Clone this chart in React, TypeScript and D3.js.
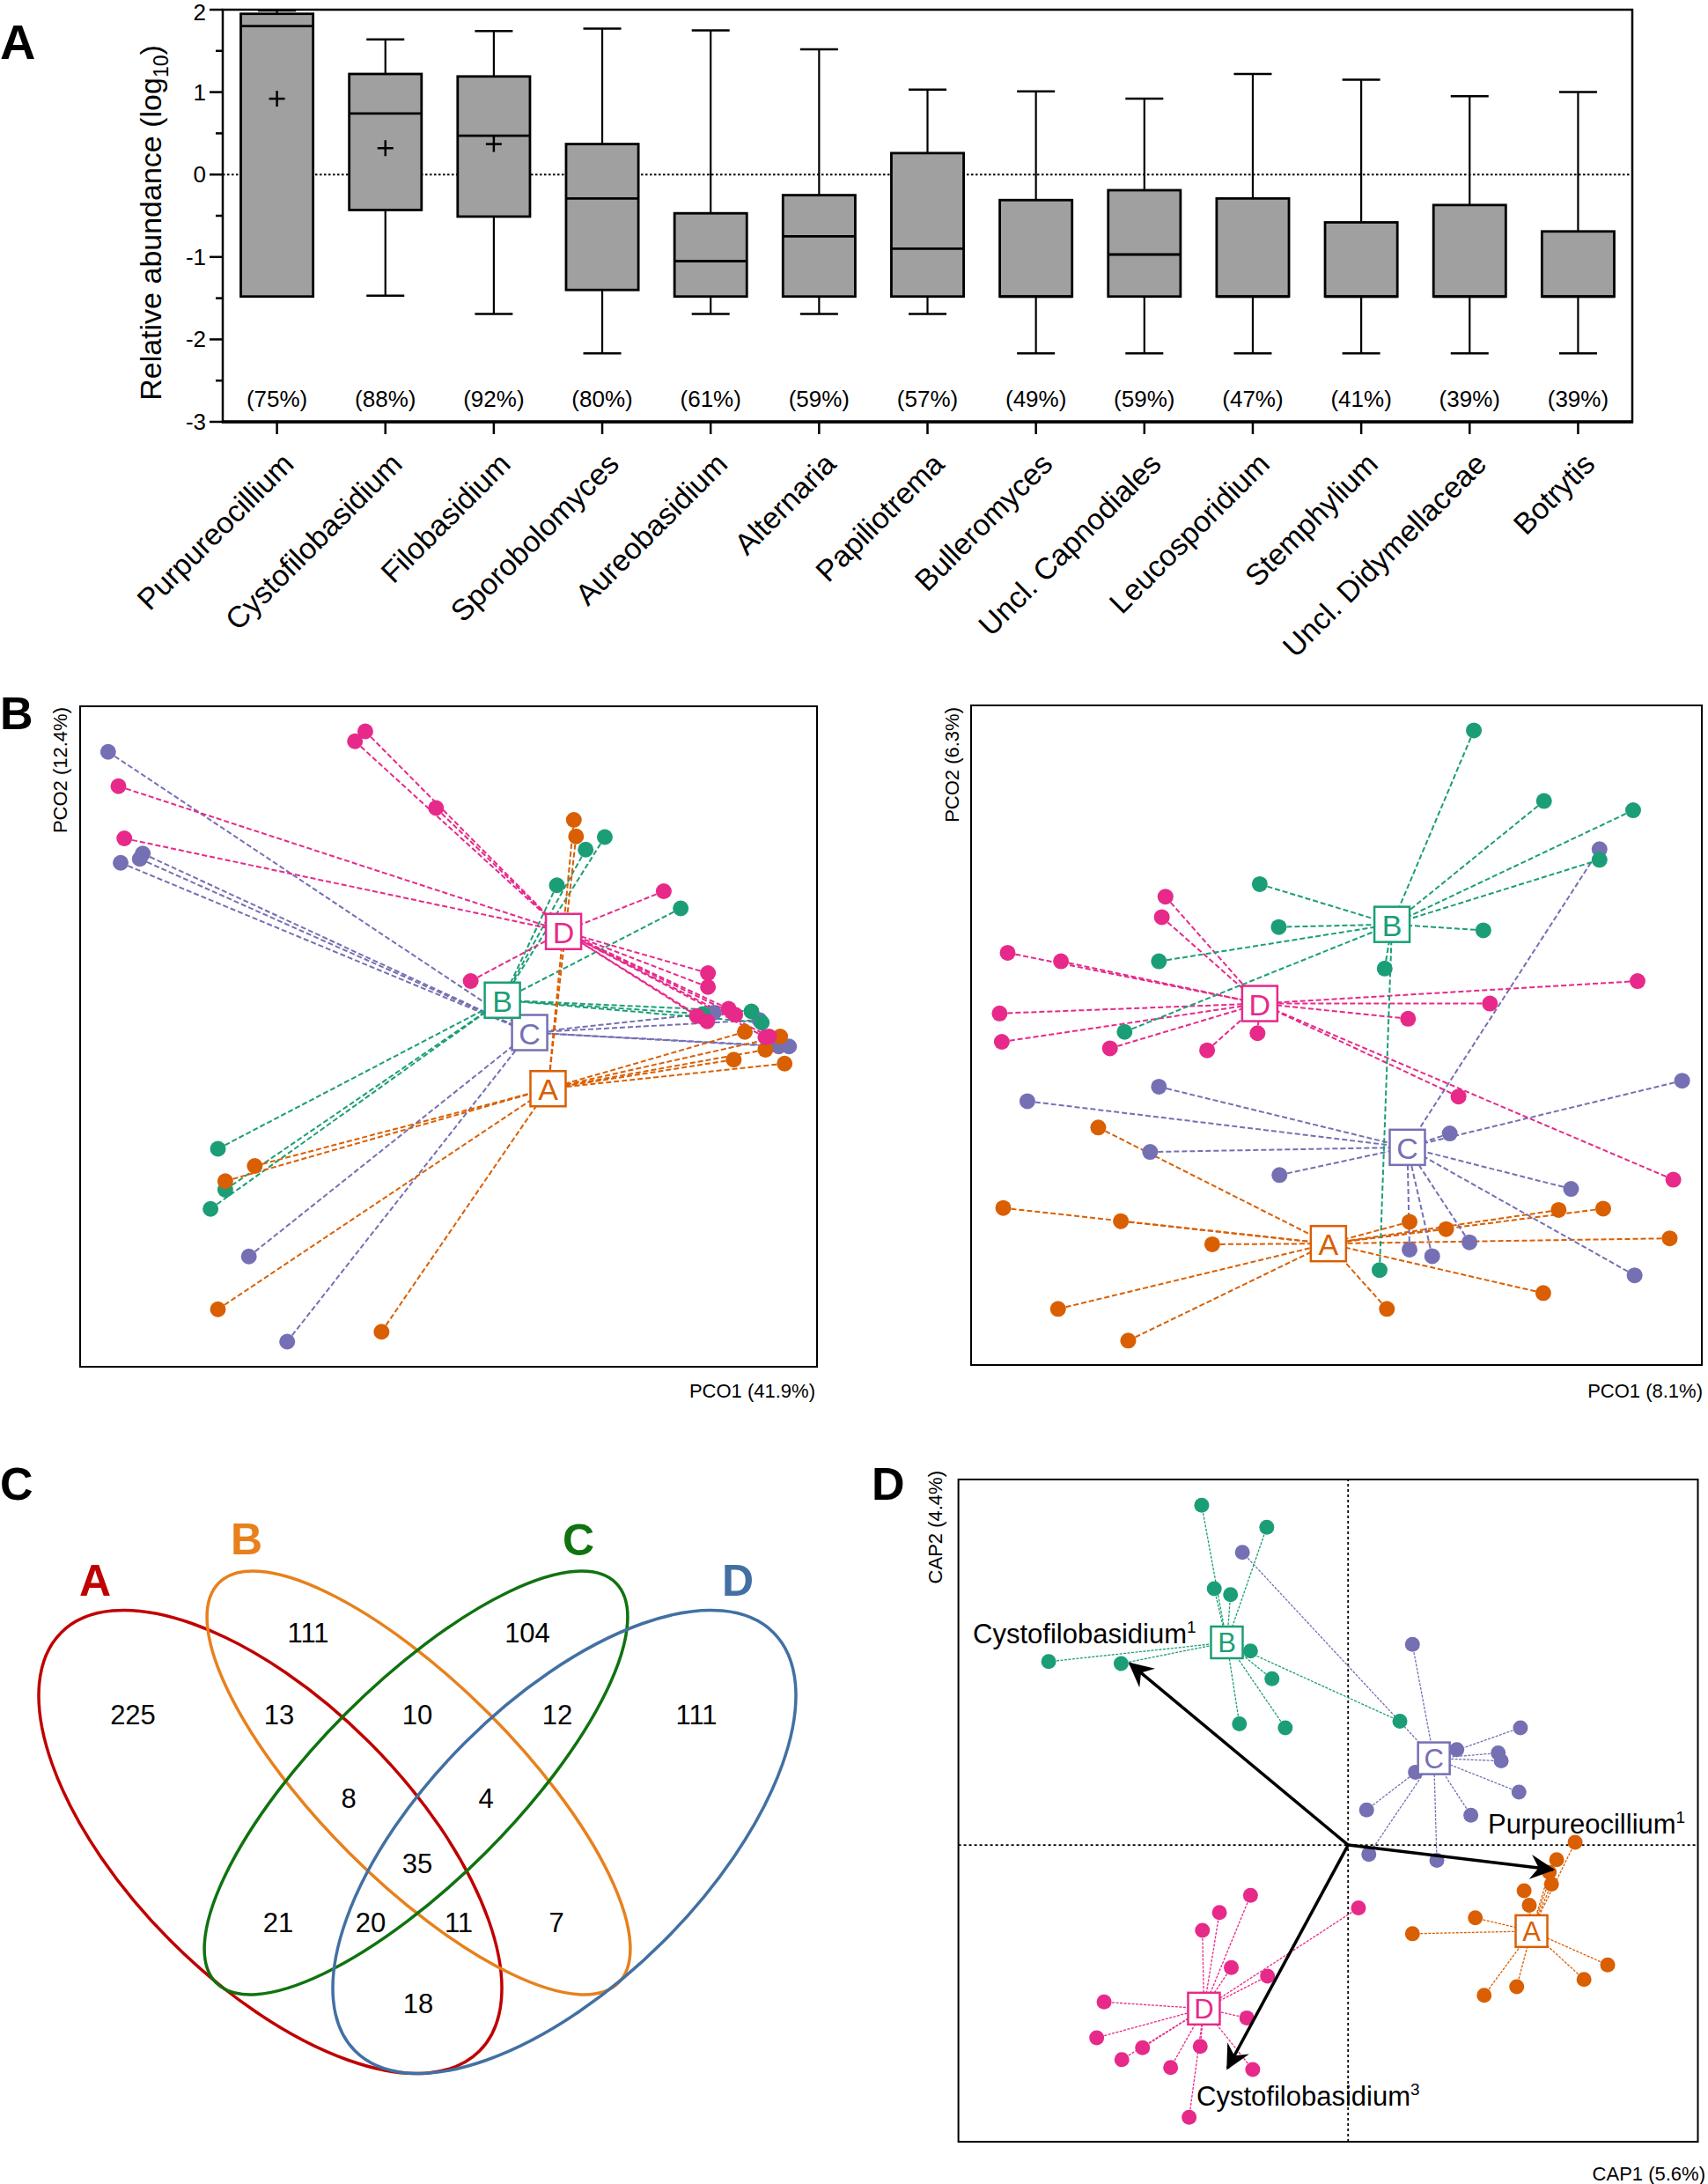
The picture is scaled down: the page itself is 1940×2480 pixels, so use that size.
import React from 'react';
import * as d3 from 'd3';

// ---------- Panel A data ----------
const genera = ['Purpureocillium', 'Cystofilobasidium', 'Filobasidium', 'Sporobolomyces', 'Aureobasidium', 'Alternaria', 'Papiliotrema', 'Bulleromyces', 'Uncl. Capnodiales', 'Leucosporidium', 'Stemphylium', 'Uncl. Didymellaceae', 'Botrytis'];
const whiskerMax = [1.99, 1.64, 1.74, 1.77, 1.75, 1.52, 1.03, 1.01, 0.92, 1.22, 1.15, 0.95, 1.0];
const q3 = [1.95, 1.22, 1.19, 0.37, -0.47, -0.25, 0.26, -0.31, -0.19, -0.29, -0.58, -0.37, -0.69];
const median = [1.8, 0.74, 0.47, -0.29, -1.05, -0.75, -0.9, -1.48, -0.97, -1.48, -1.48, -1.48, -1.48];
const q1 = [-1.48, -0.43, -0.51, -1.4, -1.48, -1.48, -1.48, -1.48, -1.48, -1.48, -1.48, -1.48, -1.48];
const whiskerMin = [-1.48, -1.47, -1.69, -2.17, -1.69, -1.69, -1.69, -2.17, -2.17, -2.17, -2.17, -2.17, -2.17];
const means: (number | null)[] = [0.92, 0.32, 0.37, null, null, null, null, null, null, null, null, null, null];
const prevalence = [75, 88, 92, 80, 61, 59, 57, 49, 59, 47, 41, 39, 39];
const yTicksA = [-3, -2, -1, 0, 1, 2];
const yMinorA = [-2.5, -1.5, -0.5, 0.5, 1.5];

// ---------- Panel B data (PCoA, arbitrary units 0-100) ----------
const groups = ['A', 'B', 'C', 'D'];
const groupColors: Record<string, string> = { A: '#d95f02', B: '#1b9e77', C: '#7570b3', D: '#e7298a' };

const pcoLeftCentroids: Record<string, number[]> = { A: [63.5, 42.1], B: [57.3, 55.5], C: [61.0, 50.6], D: [65.6, 65.9] };
const pcoLeftA = [[67.0, 82.8], [67.3, 80.3], [23.7, 30.4], [19.7, 28.1], [18.7, 8.7], [40.9, 5.3], [90.2, 50.7], [95.0, 50.0], [88.7, 46.5], [95.6, 45.9], [93.0, 48.0]];
const pcoLeftB = [[71.2, 80.2], [68.6, 78.3], [64.7, 72.9], [81.5, 69.4], [18.7, 33.0], [19.7, 26.8], [17.7, 23.9], [91.1, 53.8], [92.5, 52.1], [84.5, 53.4]];
const pcoLeftC = [[3.8, 93.1], [5.5, 76.3], [8.1, 76.9], [8.5, 77.7], [22.9, 16.7], [28.1, 3.8], [92.2, 52.5], [94.8, 48.5], [96.2, 48.5], [86.0, 53.6]];
const pcoLeftD = [[38.7, 96.2], [37.3, 94.7], [48.3, 84.6], [5.2, 87.9], [6.0, 80.0], [79.2, 72.0], [53.0, 58.4], [85.2, 59.6], [85.2, 57.5], [83.7, 53.1], [85.1, 52.3], [88.0, 54.2], [88.9, 53.3], [93.0, 49.9], [93.5, 50.0]];

const pcoRightCentroids: Record<string, number[]> = { A: [48.9, 18.4], B: [57.6, 66.8], C: [59.7, 33.0], D: [39.5, 54.8] };
const pcoRightA = [[17.4, 36.0], [4.4, 23.8], [20.5, 21.8], [33.0, 18.3], [60.0, 21.7], [65.0, 20.6], [80.4, 23.5], [86.5, 23.7], [95.6, 19.2], [78.3, 10.9], [56.9, 8.5], [11.9, 8.5], [21.5, 3.7]];
const pcoRightB = [[68.8, 96.2], [78.4, 85.5], [90.6, 84.1], [86.0, 76.6], [39.5, 72.9], [42.1, 66.4], [70.1, 65.9], [25.7, 61.2], [56.6, 60.1], [21.0, 50.5], [55.9, 14.4]];
const pcoRightC = [[86.0, 78.2], [25.7, 42.2], [7.7, 40.0], [97.3, 43.1], [65.5, 35.1], [24.5, 32.3], [42.2, 28.8], [82.1, 26.7], [68.2, 18.6], [60.0, 17.5], [63.1, 16.5], [90.8, 13.6]];
const pcoRightD = [[26.6, 71.0], [26.1, 67.9], [5.0, 62.5], [12.3, 61.2], [3.9, 53.3], [4.2, 49.0], [19.0, 48.0], [32.3, 47.7], [39.2, 50.3], [59.8, 52.5], [71.0, 54.8], [91.2, 58.2], [66.7, 40.7], [96.1, 28.1]];

// ---------- Panel C data (Venn) ----------
const vennSets = ['A', 'B', 'C', 'D'];
const vennColors: Record<string, string> = { A: '#c00000', B: '#e8801c', C: '#0f730f', D: '#4270a3' };
const vennRegions = ['A', 'B', 'C', 'D', 'AB', 'BC', 'CD', 'ABC', 'BCD', 'ABCD', 'AC', 'ACD', 'ABD', 'BD', 'AD'];
const vennCounts = [225, 111, 104, 111, 13, 10, 12, 8, 4, 35, 21, 20, 11, 7, 18];

// ---------- Panel D data (CAP) ----------
const capOrigin = [52.7, 44.8];
const capCentroids: Record<string, number[]> = { A: [77.5, 31.8], B: [36.3, 75.4], C: [64.3, 57.9], D: [33.2, 20.1] };
const capA = [[83.4, 45.2], [80.9, 42.6], [79.9, 40.7], [80.2, 38.9], [76.5, 37.9], [77.2, 35.7], [69.9, 33.8], [61.4, 31.4], [87.8, 26.7], [84.6, 24.5], [75.5, 23.4], [71.1, 22.1]];
const capB = [[32.9, 96.1], [41.7, 92.8], [34.6, 83.5], [36.8, 82.6], [12.2, 72.5], [22.0, 72.2], [39.5, 74.1], [42.4, 69.9], [38.0, 63.1], [44.2, 62.5], [59.7, 63.5]];
const capC = [[38.4, 89.0], [61.4, 75.1], [76.0, 62.5], [67.4, 59.2], [73.0, 58.7], [73.4, 57.5], [61.8, 55.8], [75.8, 52.8], [55.2, 50.1], [69.3, 49.3], [55.5, 43.4], [64.7, 42.5]];
const capD = [[39.5, 37.2], [35.3, 34.6], [33.0, 31.9], [54.1, 35.3], [36.9, 26.3], [41.8, 25.0], [19.7, 21.1], [39.0, 18.7], [18.7, 15.7], [24.9, 14.2], [32.7, 14.4], [22.1, 12.4], [28.7, 11.2], [39.8, 10.9], [31.2, 3.7]];
const capVectorNames = ['Cystofilobasidium', 'Purpureocillium', 'Cystofilobasidium'];
const capVectorSup = ['1', '1', '3'];
const capVectorTips = [[23.2, 72.2], [80.4, 41.1], [36.4, 11.1]];
const capVectorLabelPos = [[1.96, 75.2], [71.6, 46.5], [32.2, 5.4]];

const FONT = "'Liberation Sans', Arial, Helvetica, sans-serif";

type Pts = number[][];

function Ordination(props: {
  sets: Record<string, Pts>; cents: Record<string, number[]>; xr: [number, number]; yr: [number, number];
  dash: string; lw: number; r: number; box: number; boxFont: number; order: string[];
}) {
  const { sets, cents, xr, yr, dash, lw, r, box, boxFont, order } = props;
  const x = d3.scaleLinear().domain([0, 100]).range(xr);
  const y = d3.scaleLinear().domain([0, 100]).range(yr);
  return (
    <g>
      {order.map((g) => (
        <g key={'l' + g}>
          {sets[g].map((p, i) => (
            <line key={i} x1={x(p[0])} y1={y(p[1])} x2={x(cents[g][0])} y2={y(cents[g][1])}
              stroke={groupColors[g]} strokeWidth={lw} strokeDasharray={dash} />
          ))}
        </g>
      ))}
      {order.map((g) => (
        <g key={'p' + g}>
          {sets[g].map((p, i) => (
            <circle key={i} cx={x(p[0])} cy={y(p[1])} r={r} fill={groupColors[g]} />
          ))}
        </g>
      ))}
      {order.map((g) => (
        <g key={'c' + g} transform={`translate(${x(cents[g][0])},${y(cents[g][1])})`}>
          <rect x={-box / 2} y={-box / 2} width={box} height={box} fill="white" stroke={groupColors[g]} strokeWidth={2.5} />
          <text textAnchor="middle" dominantBaseline="central" y={1} fontSize={boxFont} fill={groupColors[g]} fontFamily={FONT}>{g}</text>
        </g>
      ))}
    </g>
  );
}

function PanelA() {
  const x = d3.scaleBand<string>().domain(genera).range([253, 1854]);
  const y = d3.scaleLinear().domain([-3, 2]).range([479, 11]);
  const bw = x.bandwidth() * 0.667;
  const cap = 43;
  return (
    <g fontFamily={FONT}>
      <text x={0} y={67} fontSize={56} fontWeight="bold">A</text>
      {/* zero line */}
      <line x1={x.range()[0]} x2={x.range()[1]} y1={y(0)} y2={y(0)} stroke="black" strokeWidth={2} strokeDasharray="2.5,2.5" />
      {genera.map((g, i) => {
        const cx = (x(g) as number) + x.bandwidth() / 2;
        return (
          <g key={g}>
            <line x1={cx} x2={cx} y1={y(whiskerMax[i])} y2={y(q3[i])} stroke="black" strokeWidth={2.2} />
            <line x1={cx} x2={cx} y1={y(q1[i])} y2={y(whiskerMin[i])} stroke="black" strokeWidth={2.2} />
            <line x1={cx - cap / 2} x2={cx + cap / 2} y1={y(whiskerMax[i])} y2={y(whiskerMax[i])} stroke="black" strokeWidth={2.5} />
            <line x1={cx - cap / 2} x2={cx + cap / 2} y1={y(whiskerMin[i])} y2={y(whiskerMin[i])} stroke="black" strokeWidth={2.5} />
            <rect x={cx - bw / 2} y={y(q3[i])} width={bw} height={y(q1[i]) - y(q3[i])} fill="#a0a0a0" stroke="black" strokeWidth={2.8} />
            <line x1={cx - bw / 2} x2={cx + bw / 2} y1={y(median[i])} y2={y(median[i])} stroke="black" strokeWidth={2.8} />
            {means[i] !== null && (
              <g transform={`translate(${cx},${y(means[i] as number)})`}>
                <line x1={-9} x2={9} y1={0} y2={0} stroke="black" strokeWidth={2.5} />
                <line x1={0} x2={0} y1={-9} y2={9} stroke="black" strokeWidth={2.5} />
              </g>
            )}
            <text x={cx} y={y(-2.72)} textAnchor="middle" dominantBaseline="central" fontSize={26}>({prevalence[i]}%)</text>
            <line x1={cx} x2={cx} y1={y(-3)} y2={y(-3) + 14} stroke="black" strokeWidth={2.5} />
            <text transform={`translate(${cx + 21},${529}) rotate(-45)`} textAnchor="end" fontSize={34}>{g}</text>
          </g>
        );
      })}
      {/* frame */}
      <rect x={x.range()[0]} y={y(2)} width={x.range()[1] - x.range()[0]} height={y(-3) - y(2)} fill="none" stroke="black" strokeWidth={2.5} />
      <line x1={x.range()[0] - 1} x2={x.range()[1] + 1} y1={y(-3)} y2={y(-3)} stroke="black" strokeWidth={3.5} />
      {yTicksA.map((t) => (
        <g key={t}>
          <line x1={238} x2={253} y1={y(t)} y2={y(t)} stroke="black" strokeWidth={2.5} />
          <text x={234} y={Math.max(y(t), 14)} textAnchor="end" dominantBaseline="central" fontSize={26}>{t}</text>
        </g>
      ))}
      {yMinorA.map((t) => (
        <line key={t} x1={245} x2={253} y1={y(t)} y2={y(t)} stroke="black" strokeWidth={2.5} />
      ))}
      <text transform="translate(183,253) rotate(-90)" textAnchor="middle" fontSize={34}>
        Relative abundance (log<tspan fontSize={23} dy={8}>10</tspan><tspan dy={-8}>)</tspan>
      </text>
    </g>
  );
}

function PanelB() {
  const leftSets: Record<string, Pts> = { A: pcoLeftA, B: pcoLeftB, C: pcoLeftC, D: pcoLeftD };
  const rightSets: Record<string, Pts> = { A: pcoRightA, B: pcoRightB, C: pcoRightC, D: pcoRightD };
  return (
    <g fontFamily={FONT}>
      <text x={0} y={828} fontSize={52} fontWeight="bold">B</text>
      {/* left */}
      <Ordination sets={leftSets} cents={pcoLeftCentroids} xr={[91, 928]} yr={[1552, 802]} dash="6,3" lw={2} r={9} box={40} boxFont={34} order={['C', 'B', 'A', 'D']} />
      <rect x={91} y={802} width={837} height={750} fill="none" stroke="black" strokeWidth={2} />
      <text x={926} y={1587} textAnchor="end" fontSize={22}>PCO1 (41.9%)</text>
      <text transform="translate(76,803) rotate(-90)" textAnchor="end" fontSize={22}>PCO2 (12.4%)</text>
      {/* right */}
      <Ordination sets={rightSets} cents={pcoRightCentroids} xr={[1103, 1933]} yr={[1550, 801]} dash="6,3" lw={2} r={9} box={40} boxFont={34} order={['A', 'C', 'D', 'B']} />
      <rect x={1103} y={801} width={830} height={749} fill="none" stroke="black" strokeWidth={2} />
      <text x={1934} y={1587} textAnchor="end" fontSize={22}>PCO1 (8.1%)</text>
      <text transform="translate(1089,803) rotate(-90)" textAnchor="end" fontSize={22}>PCO2 (6.3%)</text>
    </g>
  );
}

function PanelC() {
  const ellipses: Record<string, { cx: number; cy: number; a: number; b: number; rot: number }> = {
    A: { cx: 307, cy: 2091.5, a: 336, b: 159.5, rot: 45 },
    B: { cx: 475.5, cy: 2024.5, a: 321, b: 112, rot: 45 },
    C: { cx: 472.5, cy: 2024.5, a: 321, b: 112, rot: -45 },
    D: { cx: 641, cy: 2091.5, a: 336, b: 159.5, rot: -45 },
  };
  const setLabelPos: Record<string, number[]> = { A: [108, 1812], B: [280, 1765], C: [657, 1766], D: [838, 1812] };
  const regionPos: Record<string, number[]> = {
    A: [151, 1947], B: [350, 1854], C: [599, 1854], D: [791, 1947],
    AB: [317, 1947], BC: [474, 1947], CD: [633, 1947], ABC: [396, 2042], BCD: [552, 2042],
    ABCD: [474, 2116], AC: [316, 2183], ACD: [421, 2183], ABD: [521, 2183], BD: [632, 2183], AD: [475, 2275],
  };
  return (
    <g fontFamily={FONT}>
      <text x={0} y={1703} fontSize={52} fontWeight="bold">C</text>
      {vennSets.map((s) => {
        const e = ellipses[s];
        return (
          <ellipse key={s} cx={0} cy={0} rx={e.a} ry={e.b} transform={`translate(${e.cx},${e.cy}) rotate(${e.rot})`}
            fill="none" stroke={vennColors[s]} strokeWidth={3.5} />
        );
      })}
      {vennSets.map((s) => (
        <text key={s} x={setLabelPos[s][0]} y={setLabelPos[s][1]} textAnchor="middle" fontSize={50} fontWeight="bold" fill={vennColors[s]}>{s}</text>
      ))}
      {vennRegions.map((r, i) => (
        <text key={r} x={regionPos[r][0]} y={regionPos[r][1]} textAnchor="middle" dominantBaseline="central" fontSize={31}>{vennCounts[i]}</text>
      ))}
    </g>
  );
}

function PanelD() {
  const x = d3.scaleLinear().domain([0, 100]).range([1088.6, 1928.5]);
  const y = d3.scaleLinear().domain([0, 100]).range([2432, 1680]);
  const sets: Record<string, Pts> = { A: capA, B: capB, C: capC, D: capD };
  return (
    <g fontFamily={FONT}>
      <defs>
        <marker id="arrowHeadBig" viewBox="0 0 12 12" refX={11} refY={6} markerWidth={28} markerHeight={28} markerUnits="userSpaceOnUse" orient="auto">
          <path d="M0,0 L12,6 L0,12 L4,6 Z" fill="black" />
        </marker>
      </defs>
      <text x={990} y={1703} fontSize={52} fontWeight="bold">D</text>
      <line x1={x(capOrigin[0])} x2={x(capOrigin[0])} y1={y(0)} y2={y(100)} stroke="black" strokeWidth={1.8} strokeDasharray="3,3" />
      <line x1={x(0)} x2={x(100)} y1={y(capOrigin[1])} y2={y(capOrigin[1])} stroke="black" strokeWidth={1.8} strokeDasharray="3,3" />
      <Ordination sets={sets} cents={capCentroids} xr={[1088.6, 1928.5]} yr={[2432, 1680]} dash="3,1.5" lw={1.3} r={8.5} box={36} boxFont={31} order={['C', 'B', 'A', 'D']} />
      {capVectorTips.map((t, i) => (
        <line key={i} x1={x(capOrigin[0])} y1={y(capOrigin[1])} x2={x(t[0])} y2={y(t[1])} stroke="black" strokeWidth={3.5} markerEnd="url(#arrowHeadBig)" />
      ))}
      {capVectorNames.map((n, i) => (
        <text key={i} x={x(capVectorLabelPos[i][0])} y={y(capVectorLabelPos[i][1])} fontSize={31}>
          {n}<tspan fontSize={19} dy={-12}>{capVectorSup[i]}</tspan>
        </text>
      ))}
      <rect x={1088.6} y={1680} width={839.9} height={752} fill="none" stroke="black" strokeWidth={2} />
      <text x={1937} y={2476} textAnchor="end" fontSize={22}>CAP1 (5.6%)</text>
      <text transform="translate(1070,1670) rotate(-90)" textAnchor="end" fontSize={22}>CAP2 (4.4%)</text>
    </g>
  );
}

export default function App() {
  return (
    <svg width={1940} height={2480} viewBox="0 0 1940 2480" style={{ position: 'absolute', left: 0, top: 0, background: 'white' }}>
      <rect x={0} y={0} width={1940} height={2480} fill="white" />
      <PanelA />
      <PanelB />
      <PanelC />
      <PanelD />
    </svg>
  );
}
